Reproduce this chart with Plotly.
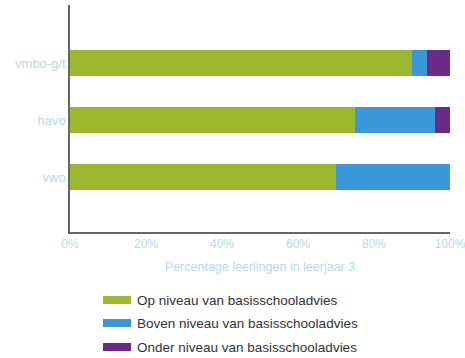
import plotly.graph_objects as go

categories = ["vwo", "havo", "vmbo-g/t"]
series_names = ["Op niveau van basisschooladvies",
                "Boven niveau van basisschooladvies",
                "Onder niveau van basisschooladvies"]
op_niveau = [70, 75, 90]
boven_niveau = [30, 21, 4]
onder_niveau = [0, 4, 6]
colors = ["#9cb82e", "#3a98d8", "#6b2a88"]
x_ticks = [0, 20, 40, 60, 80, 100]
x_tick_labels = ["0%", "20%", "40%", "60%", "80%", "100%"]
x_title = "Percentage leerlingen in leerjaar 3"

W, H = 465, 358
L, R, T, B = 70, 15, 5, 126
PW, PH = W - L - R, H - T - B

fig = go.Figure()
for name, vals, col in zip(series_names, [op_niveau, boven_niveau, onder_niveau], colors):
    fig.add_trace(go.Bar(y=categories, x=vals, name=name, orientation="h",
                         marker=dict(color=col, line=dict(width=0)),
                         width=0.46, showlegend=False))

fig.update_layout(
    barmode="stack",
    width=W, height=H,
    margin=dict(l=L, r=R, t=T, b=B, autoexpand=False),
    plot_bgcolor="white", paper_bgcolor="white",
    font=dict(family="Liberation Sans, Arial", size=12, color="#333"),
)
fig.update_xaxes(range=[0, 100], tickvals=x_ticks, ticktext=x_tick_labels,
                 showgrid=False, zeroline=False, showline=True, linecolor="#666", linewidth=1.5,
                 tickfont=dict(color="#b5dbe6", size=12), ticks="", ticklen=0,
                 ticklabeloverflow="allow",
                 title=dict(text=x_title, font=dict(color="#b5dbe6", size=12.5), standoff=12))
fig.update_yaxes(type="category", range=[-0.965, 3.02], showgrid=False, zeroline=False,
                 showline=True, linecolor="#666", linewidth=1.5,
                 tickfont=dict(color="#b5dbe6", size=13), ticks="")

# custom legend (pixel positions converted to paper coordinates)
legend_y = [300, 323, 347]
def px_x(x):
    return (x - L) / PW
def px_y(y):
    return 1 - (y - T) / PH

shapes, annots = [], []
for name, col, yy in zip(series_names, colors, legend_y):
    shapes.append(dict(type="rect", xref="paper", yref="paper",
                       x0=px_x(103), x1=px_x(131), y0=px_y(yy + 4), y1=px_y(yy - 4),
                       line=dict(width=0), fillcolor=col))
    annots.append(dict(text=name, xref="paper", yref="paper", x=px_x(135), y=px_y(yy),
                       xanchor="left", yanchor="middle", showarrow=False,
                       font=dict(size=13.5, color="#333")))
fig.update_layout(shapes=shapes, annotations=annots)

fig.write_html("out.html", config={"displayModeBar": False},
               post_script="document.body.style.margin='0';document.body.style.overflow='hidden';")
